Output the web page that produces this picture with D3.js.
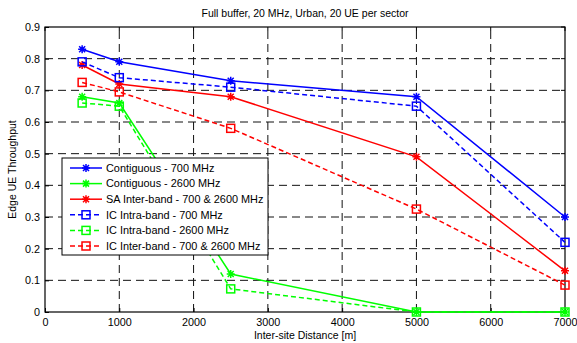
<!DOCTYPE html>
<html>
<head>
<meta charset="utf-8">
<script src="https://cdn.jsdelivr.net/npm/d3@7"></script>
<style>
body { margin: 0; background: #fff; }
svg { font-family: "Liberation Sans", Arial, sans-serif; }
.grid line { stroke: #111; stroke-dasharray: 8,5; stroke-width: 1; }
</style>
</head>
<body>
<script>
var width = 577,
    height = 343;

// inter-site distances [m]
var distances = [500, 1000, 2500, 5000, 7000];

// edge UE throughput per scheme
var contig700 = [0.83, 0.79, 0.73, 0.68, 0.30];
var contig2600 = [0.68, 0.66, 0.12, 0.0, 0.0];
var saInter = [0.78, 0.72, 0.68, 0.49, 0.13];
var icIntra700 = [0.79, 0.74, 0.71, 0.65, 0.22];
var icIntra2600 = [0.66, 0.65, 0.073, 0.0, 0.0];
var icInter = [0.725, 0.695, 0.58, 0.325, 0.085];

var seriesNames = ["Contiguous - 700 MHz", "Contiguous - 2600 MHz", "SA Inter-band - 700 & 2600 MHz",
    "IC Intra-band - 700 MHz", "IC Intra-band - 2600 MHz", "IC Inter-band - 700 & 2600 MHz"];

var xTicks = [0, 1000, 2000, 3000, 4000, 5000, 6000, 7000];
var yTicks = [0, 0.1, 0.2, 0.3, 0.4, 0.5, 0.6, 0.7, 0.8, 0.9];

var series = [
    {name: seriesNames[0], values: contig700, color: "#0000ff", dash: false, marker: "star"},
    {name: seriesNames[1], values: contig2600, color: "#00ff00", dash: false, marker: "star"},
    {name: seriesNames[2], values: saInter, color: "#ff0000", dash: false, marker: "star"},
    {name: seriesNames[3], values: icIntra700, color: "#0000ff", dash: true, marker: "square"},
    {name: seriesNames[4], values: icIntra2600, color: "#00ff00", dash: true, marker: "square"},
    {name: seriesNames[5], values: icInter, color: "#ff0000", dash: true, marker: "square"}
];

var margin = {left: 45, top: 27, right: 12, bottom: 31};

var svg = d3.select("body").append("svg")
    .attr("width", width)
    .attr("height", height);

var x = d3.scaleLinear().domain([0, 7000]).range([margin.left, width - margin.right]);
var y = d3.scaleLinear().domain([0, 0.9]).range([height - margin.bottom, margin.top]);

//grid
var grid = svg.append("g").attr("class", "grid");
grid.selectAll(".gx").data(xTicks.slice(1, -1)).enter().append("line")
    .attr("x1", function(d){return x(d);}).attr("x2", function(d){return x(d);})
    .attr("y1", y(0)).attr("y2", y(0.9));
grid.selectAll(".gy").data(yTicks.slice(1, -1)).enter().append("line")
    .attr("y1", function(d){return y(d);}).attr("y2", function(d){return y(d);})
    .attr("x1", x(0)).attr("x2", x(7000));

//axes
var xAxis = svg.append("g")
    .attr("transform", "translate(0," + y(0) + ")")
    .call(d3.axisBottom(x).tickValues(xTicks).tickSize(-4).tickPadding(6).tickFormat(d3.format("d")));
var yAxis = svg.append("g")
    .attr("transform", "translate(" + x(0) + ",0)")
    .call(d3.axisLeft(y).tickValues(yTicks).tickSize(-4).tickPadding(5).tickFormat(function(d){return d == 0 ? "0" : d3.format(".1f")(d);}));
[xAxis, yAxis].forEach(function(a){
    a.select(".domain").remove();
    a.selectAll("text").attr("font-size", 10.8).attr("fill", "#000").attr("font-family", "Liberation Sans, Arial, sans-serif");
    a.selectAll("line").attr("stroke", "#000");
});
// top/right ticks
svg.append("g").selectAll("line").data(xTicks).enter().append("line")
    .attr("x1", function(d){return x(d);}).attr("x2", function(d){return x(d);})
    .attr("y1", y(0.9)).attr("y2", y(0.9) + 4).attr("stroke", "#000");
svg.append("g").selectAll("line").data(yTicks).enter().append("line")
    .attr("y1", function(d){return y(d);}).attr("y2", function(d){return y(d);})
    .attr("x1", x(7000)).attr("x2", x(7000) - 4).attr("stroke", "#000");

//box
svg.append("rect")
    .attr("x", x(0)).attr("y", y(0.9))
    .attr("width", x(7000) - x(0)).attr("height", y(0) - y(0.9))
    .attr("fill", "none").attr("stroke", "#000").attr("stroke-width", 1.2);

var line = d3.line().x(function(d){return x(d[0]);}).y(function(d){return y(d[1]);});

function drawMarker(g, m, color) {
    if (m == "star") {
        g.append("path").attr("d", "M-4,0H4M0,-4V4M-3,-3L3,3M-3,3L3,-3")
            .attr("stroke", color).attr("stroke-width", 1.5).attr("fill", "none");
        g.append("circle").attr("r", 1.8).attr("fill", color);
    } else {
        g.append("rect").attr("x", -4).attr("y", -4).attr("width", 8).attr("height", 8)
            .attr("fill", "none").attr("stroke", color).attr("stroke-width", 1.5);
    }
}

//lines and markers
series.forEach(function(s){
    var pts = distances.map(function(d, i){return [d, s.values[i]];});
    svg.append("path")
        .attr("d", line(pts))
        .attr("fill", "none")
        .attr("stroke", s.color)
        .attr("stroke-width", 1.5)
        .attr("stroke-dasharray", s.dash ? "5,3" : null);
    pts.forEach(function(p){
        var g = svg.append("g").attr("transform", "translate(" + x(p[0]) + "," + y(p[1]) + ")");
        drawMarker(g, s.marker, s.color);
    });
});

//legend
var lg = svg.append("g").attr("transform", "translate(62,158)");
lg.append("rect").attr("width", 206).attr("height", 97)
    .attr("fill", "#fff").attr("stroke", "#000").attr("stroke-width", 1);
series.forEach(function(s, i){
    var yy = 10 + i * 15.6;
    lg.append("line").attr("x1", 8).attr("x2", 40).attr("y1", yy).attr("y2", yy)
        .attr("stroke", s.color).attr("stroke-width", 1.5)
        .attr("stroke-dasharray", s.dash ? "5,3" : null);
    drawMarker(lg.append("g").attr("transform", "translate(24," + yy + ")"), s.marker, s.color);
    lg.append("text").attr("x", 44).attr("y", yy + 3.8)
        .attr("font-size", 10.9).text(s.name);
});

//titles
svg.append("text").attr("x", (x(0) + x(7000)) / 2).attr("y", 17)
    .attr("text-anchor", "middle").attr("font-size", 10.5)
    .text("Full buffer, 20 MHz, Urban, 20 UE per sector");
svg.append("text").attr("x", (x(0) + x(7000)) / 2).attr("y", 339)
    .attr("text-anchor", "middle").attr("font-size", 10.5)
    .text("Inter-site Distance [m]");
svg.append("text")
    .attr("transform", "translate(16," + (y(0) + y(0.9)) / 2 + ") rotate(-90)")
    .attr("text-anchor", "middle").attr("font-size", 10.5)
    .text("Edge UE Throughput");
</script>
</body>
</html>
